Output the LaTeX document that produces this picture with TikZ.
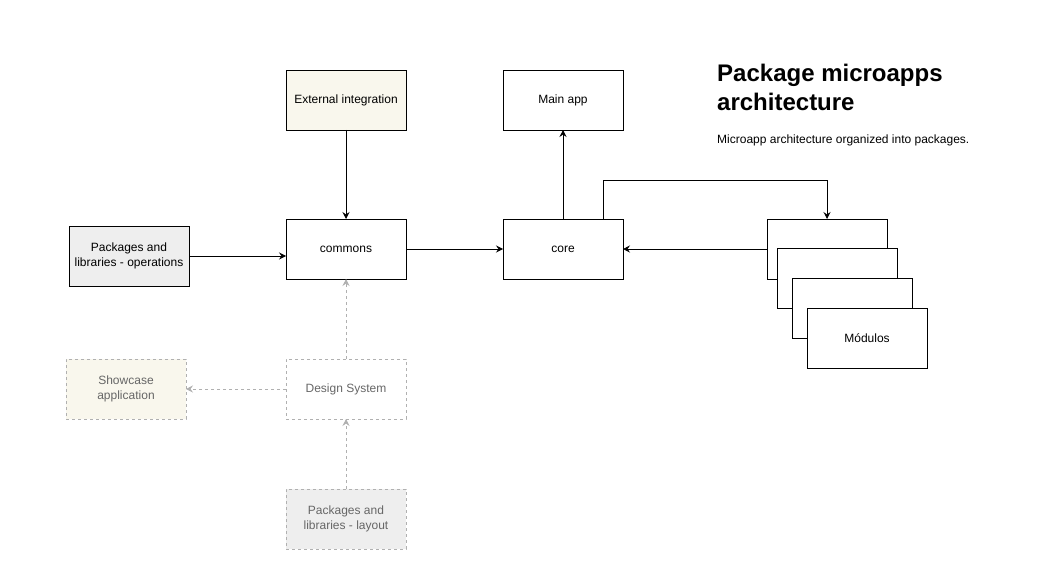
\documentclass[tikz,border=0pt]{standalone}
\usepackage{fontspec}
\setmainfont{Liberation Sans}
\usetikzlibrary{positioning}
\usetikzlibrary{calc}
\usetikzlibrary{arrows.meta}
\definecolor{sand}{HTML}{F9F7ED}
\definecolor{pkggray}{HTML}{EEEEEE}
\definecolor{dashline}{HTML}{B0B0B0}
\definecolor{dashtext}{HTML}{666666}

\begin{document}
\begin{tikzpicture}[x=1pt,y=1pt,
  box/.style={draw,align=center,minimum width=120pt,minimum height=60pt,inner sep=2pt,outer sep=0pt,line width=0.8pt,font=\fontsize{12}{15}\selectfont},
  ext/.style={box,fill=sand},
  lib/.style={box,fill=pkggray},
  mod/.style={box,fill=white},
  ghost/.style={box,draw=dashline,text=dashtext,dash pattern=on 3pt off 3pt},
  arr/.style={line width=0.8pt,-{Stealth[length=7pt,width=7pt,inset=2.5pt]}},
  ghostarr/.style={arr,draw=dashline,dash pattern=on 3pt off 3pt}]

  \useasboundingbox (0,0) rectangle (1056,-588);

  % Main row -- commons anchors the layout
  \node[box] (commons) at (346,-249) {commons};
  \node[box, right=97pt of commons] (core) {core};
  \node[ext, above=89pt of commons] (ext) {External integration};
  \node[box, above=89pt of core] (main) {Main app};
  \node[lib, left=97pt of commons, yshift=-7pt] (ops) {Packages and\\libraries - operations};

  % Design system branch (dashed, below)
  \node[ghost, below=80pt of commons] (ds) {Design System};
  \node[ghost, fill=sand, left=100pt of ds] (show) {Showcase\\application};
  \node[ghost, fill=pkggray, below=70pt of ds] (layout) {Packages and\\libraries - layout};

  % Stack of modules on the right
  \node[mod, right=144pt of core] (mod1) {};
  \node[mod] (mod2) at ($(mod1)+(10,-29)$) {};
  \node[mod] (mod3) at ($(mod1)+(25,-59)$) {};
  \node[mod] (mod4) at ($(mod1)+(40,-89)$) {M\'odulos};

  % Title
  \node[anchor=north west,inner sep=0pt,align=left,font=\fontsize{24}{29}\selectfont\bfseries] (title) at (717,-64) {Package microapps\\architecture};
  \node[anchor=base west,inner sep=0pt,font=\fontsize{12}{15}\selectfont] (sub) at (717,-144) {Microapp architecture organized into packages.};

  \draw[arr] (ext) -- (commons);
  \draw[arr] (ops.east) -- (ops.east -| commons.west);
  \draw[arr] (commons) -- (core);
  \draw[arr] (core) -- (main);
  \draw[arr] (mod1) -- (core);
  \draw[arr] ([xshift=-20pt]core.north east) |- ([yshift=39pt]mod1.north) -- (mod1.north);
  \draw[ghostarr] (ds) -- (commons);
  \draw[ghostarr] (ds) -- (show);
  \draw[ghostarr] (layout) -- (ds);
\end{tikzpicture}
\end{document}
